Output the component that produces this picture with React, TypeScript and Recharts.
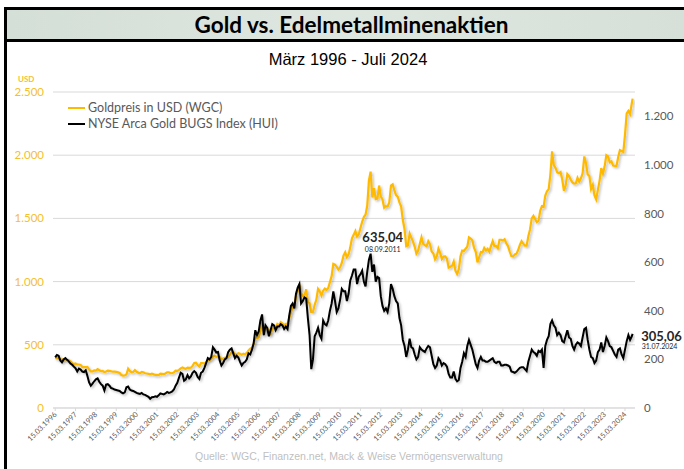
import React from 'react';
import { LineChart, Line, XAxis, YAxis, CartesianGrid, ReferenceDot } from 'recharts';

const START_YEAR = 1996;
const START_MONTH = 3; // March

// Gold price in USD (monthly, March 1996 – July 2024)
const goldPrice = [
  396, 393, 392, 385, 383, 387, 383, 381, 378, 369,
  355, 347, 352, 344, 344, 341, 324, 324, 323, 325, 306, 289,
  289, 297, 296, 308, 299, 292, 293, 284, 289, 296, 294, 291,
  287, 287, 286, 282, 277, 261, 256, 257, 265, 311, 293, 283,
  285, 300, 286, 280, 275, 285, 282, 275, 273, 270, 266, 272,
  266, 262, 263, 260, 272, 270, 268, 273, 283, 283, 276, 275,
  282, 296, 294, 302, 314, 321, 313, 310, 319, 317, 319, 333,
  356, 359, 340, 328, 355, 356, 351, 360, 379, 379, 389, 407,
  414, 405, 406, 404, 384, 392, 398, 400, 405, 420, 439, 442,
  424, 423, 434, 429, 422, 430, 424, 437, 456, 470, 476, 510,
  549, 555, 557, 610, 676, 596, 633, 632, 598, 585, 627, 629,
  631, 665, 655, 679, 667, 655, 665, 665, 712, 754, 806, 803,
  889, 922, 975, 909, 888, 889, 939, 839, 829, 760, 760, 816,
  858, 943, 924, 890, 928, 945, 934, 949, 996, 1043, 1140, 1134,
  1117, 1095, 1113, 1148, 1205, 1232, 1193, 1215, 1271, 1342, 1370, 1400,
  1356, 1372, 1424, 1473, 1510, 1529, 1600, 1800, 1870, 1665, 1739, 1652,
  1656, 1760, 1674, 1650, 1585, 1596, 1594, 1626, 1760, 1770, 1721, 1684,
  1671, 1627, 1593, 1487, 1414, 1280, 1286, 1380, 1348, 1316, 1275, 1221,
  1244, 1300, 1350, 1299, 1288, 1279, 1320, 1296, 1238, 1222, 1176, 1200,
  1260, 1227, 1179, 1198, 1199, 1181, 1110, 1117, 1125, 1159, 1086, 1060,
  1097, 1200, 1246, 1242, 1260, 1276, 1350, 1341, 1326, 1266, 1236, 1152,
  1192, 1234, 1231, 1266, 1246, 1260, 1236, 1283, 1320, 1280, 1282, 1265,
  1331, 1331, 1325, 1335, 1303, 1281, 1238, 1202, 1198, 1215, 1221, 1250,
  1291, 1320, 1300, 1285, 1284, 1359, 1413, 1500, 1520, 1495, 1470, 1480,
  1560, 1597, 1591, 1680, 1715, 1732, 1847, 2030, 1922, 1900, 1866, 1858,
  1867, 1808, 1718, 1760, 1850, 1834, 1807, 1785, 1775, 1777, 1821, 1790,
  1817, 1856, 1990, 1937, 1848, 1836, 1732, 1765, 1681, 1650, 1726, 1797,
  1898, 1855, 1912, 2000, 1991, 1943, 1951, 1918, 1916, 1916, 1985, 2040,
  2034, 2025, 2160, 2330, 2350, 2325, 2410,
];

// NYSE Arca Gold BUGS Index (HUI) (monthly, March 1996 – July 2024)
const huiIndex = [
  208, 218, 215, 196, 188, 200, 205, 198, 192, 183,
  178, 170, 163, 150, 162, 158, 150, 148, 155, 132, 105, 92,
  100, 110, 118, 122, 108, 98, 92, 72, 96, 98, 92, 82,
  80, 76, 74, 72, 70, 64, 60, 64, 85, 88, 76, 72,
  70, 66, 62, 60, 58, 62, 56, 54, 50, 46, 38, 44,
  45, 48, 46, 52, 60, 58, 56, 60, 66, 62, 64, 68,
  76, 92, 104, 125, 145, 140, 112, 118, 135, 122, 130, 145,
  152, 145, 128, 120, 145, 150, 165, 185, 205, 200, 210, 250,
  240, 228, 230, 195, 175, 185, 200, 205, 230, 240, 245, 225,
  205, 215, 208, 190, 175, 185, 190, 200, 225, 220, 240, 265,
  320, 300, 315, 360, 385, 300, 340, 330, 295, 320, 345, 340,
  320, 335, 335, 345, 340, 325, 335, 325, 380, 420, 430, 410,
  470, 495, 510, 430, 440, 455, 450, 370, 300, 160, 200, 295,
  310, 330, 300, 285, 360, 345, 340, 360, 400, 430, 480, 440,
  395, 410, 445, 490, 480, 480, 440, 470, 525, 545, 570, 570,
  510, 540, 550, 565, 520, 500, 560, 610, 635, 560, 590, 520,
  540, 535, 460, 420, 400, 410, 395, 430, 510, 490, 460, 440,
  430, 370, 340, 280, 255, 210, 240, 285, 250, 245, 220, 200,
  210, 250, 240, 235, 230, 245, 255, 250, 215, 180, 165, 175,
  205, 195, 175, 185, 180, 170, 140, 125, 125, 150, 120, 110,
  115, 165, 190, 225, 210, 255, 280, 260, 240, 210, 180, 165,
  195, 210, 195, 195, 190, 190, 195, 200, 205, 190, 185, 190,
  190, 175, 175, 178, 178, 175, 170, 150, 148, 145, 150, 158,
  165, 168, 168, 160, 152, 190, 215, 240, 230, 225, 215, 235,
  230, 240, 165, 255, 280, 295, 345, 360, 340, 330, 300, 310,
  300, 275, 270, 295, 320, 290, 285, 255, 240, 260, 270, 265,
  255, 290, 325, 330, 280, 240, 210, 205, 185, 195, 230, 240,
  270, 230, 255, 290, 275, 255, 250, 235, 220, 210, 240, 245,
  220, 205, 240, 275, 300, 280, 295,
];

const tickYears = [
  1996, 1997, 1998, 1999, 2000, 2001, 2002, 2003, 2004, 2005, 2006, 2007, 2008, 2009, 2010,
  2011, 2012, 2013, 2014, 2015, 2016, 2017, 2018, 2019, 2020, 2021, 2022, 2023, 2024,
];
const leftTicks = [0, 500, 1000, 1500, 2000, 2500];
const rightTicks = [0, 200, 400, 600, 800, 1000, 1200];

const legendLabels = ['Goldpreis in USD (WGC)', 'NYSE Arca Gold BUGS Index (HUI)'];

const peakValue = 635.04;
const peakDateLabel = '08.09.2011';
const peakT = 2011 + (8 + 8 / 30) / 12;
const lastValue = 305.06;
const lastGold = 2448;
const lastDateLabel = '31.07.2024';
const lastT = 2024 + 7 / 12;

const GOLD = '#FFBA00';
const GOLD_TEXT = '#F5BF2C';
const DARK = '#000000';
const FONT = 'Lato, "Open Sans", sans-serif';

const data = goldPrice.map((g, i) => {
  const m = START_MONTH - 1 + i;
  return { t: START_YEAR + Math.floor(m / 12) + ((m % 12) + 0.5) / 12, gold: g, hui: huiIndex[i] };
});
data.push({ t: lastT, gold: lastGold, hui: lastValue });

const tickT = tickYears.map((y) => y + 2.5 / 12);

const fmt = (v: number) => String(v).replace(/\B(?=(\d{3})+(?!\d))/g, '.');
const fmtDec = (v: number) => v.toFixed(2).replace('.', ',');

const XTick = (props: any) => {
  const { x, y, payload } = props;
  const year = Math.round(payload.value - 2.5 / 12);
  return (
    <g transform={`translate(${x + 2},${y + 2})`}>
      <text x={0} y={0} textAnchor="end" transform="rotate(-45)" fontSize={7.4} fill="#595959" fontFamily={FONT}>
        {`15.03.${year}`}
      </text>
    </g>
  );
};

const LeftTick = (props: any) => {
  const { x, y, payload } = props;
  return (
    <text x={x} y={y} dy={4} textAnchor="end" fontSize={11.5} fill={GOLD_TEXT} fontFamily={FONT}>
      {fmt(payload.value)}
    </text>
  );
};

const RightTick = (props: any) => {
  const { x, y, payload } = props;
  return (
    <text x={x} y={y} dy={4} textAnchor="start" fontSize={11.5} fill="#595959" fontFamily={FONT}>
      {fmt(payload.value)}
    </text>
  );
};

const PeakShape = (p: any) => (
  <g>
    <text x={p.cx + 12.5} y={p.cy - 12} textAnchor="middle" fontSize={13} fontWeight={700} fill="#262626" fontFamily={FONT}>
      {fmtDec(peakValue)}
    </text>
    <text x={p.cx + 12.5} y={p.cy - 2} textAnchor="middle" fontSize={7} fill="#262626" fontFamily={FONT}>
      {peakDateLabel}
    </text>
  </g>
);

const LastShape = (p: any) => (
  <g>
    <text x={p.cx + 8.5} y={p.cy + 7} textAnchor="start" fontSize={13} fontWeight={700} fill="#262626" fontFamily={FONT}>
      {fmtDec(lastValue)}
    </text>
    <text x={p.cx + 9} y={p.cy + 15.5} textAnchor="start" fontSize={7} fill="#262626" fontFamily={FONT}>
      {lastDateLabel}
    </text>
  </g>
);

export default function App() {
  return (
    <div style={{ position: 'absolute', left: 0, top: 0, width: 684, height: 469, background: '#fff', overflow: 'hidden' }}>
      {/* frame */}
      <div style={{ position: 'absolute', left: 4, top: 7, width: 680, height: 3, background: '#000' }} />
      <div style={{ position: 'absolute', left: 4, top: 7, width: 3, height: 462, background: '#000' }} />
      <div
        style={{
          position: 'absolute', left: 7, top: 10, width: 677, height: 29,
          background: 'linear-gradient(90deg, #D4DFD7 0%, #DEE6E0 50%, #D6E0D8 100%)',
          display: 'flex', alignItems: 'center', justifyContent: 'center',
        }}
      >
        <span style={{ fontFamily: FONT, fontWeight: 700, fontSize: 22.5, color: '#000', marginLeft: 12, lineHeight: '29px' }}>
          Gold vs. Edelmetallminenaktien
        </span>
      </div>
      <div style={{ position: 'absolute', left: 4, top: 39, width: 680, height: 3, background: '#000' }} />
      <div
        style={{
          position: 'absolute', left: 0, top: 50, width: 696, textAlign: 'center',
          fontFamily: '"Liberation Sans", Arial, sans-serif', fontSize: 16.5, color: '#000',
        }}
      >
        März 1996 - Juli 2024
      </div>
      <div
        style={{
          position: 'absolute', left: 18, top: 74, fontFamily: FONT, fontWeight: 700,
          fontSize: 8, lineHeight: '10px', color: GOLD_TEXT,
        }}
      >
        USD
      </div>
      {/* legend */}
      <div style={{ position: 'absolute', left: 68, top: 100, fontFamily: FONT, fontSize: 12.5, color: '#595959' }}>
        {legendLabels.map((label, i) => (
          <div key={label} style={{ display: 'flex', alignItems: 'center', height: 16, lineHeight: '16px' }}>
            <span style={{ display: 'inline-block', width: 17, height: 2, background: i === 0 ? GOLD : DARK, marginRight: 3 }} />
            <span>{label}</span>
          </div>
        ))}
      </div>
      <div
        style={{
          position: 'absolute', left: 0, top: 450, width: 698, textAlign: 'center',
          fontFamily: '"Liberation Sans", Arial, sans-serif', fontSize: 10.5, color: '#BFBFBF',
        }}
      >
        Quelle: WGC, Finanzen.net, Mack &amp; Weise Vermögensverwaltung
      </div>
      <div style={{ position: 'absolute', left: 0, top: 0 }}>
        <LineChart width={684} height={469} data={data} margin={{ top: 92, right: 9, bottom: 11, left: 13 }}>
          <defs>
            <filter id="shadow" x="-5%" y="-5%" width="110%" height="110%">
              <feDropShadow dx="1.5" dy="1.5" stdDeviation="1" floodColor="#000" floodOpacity="0.25" />
            </filter>
          </defs>
          <CartesianGrid yAxisId="left" vertical={false} stroke="#D9D9D9" strokeWidth={1} />
          <XAxis
            dataKey="t"
            type="number"
            domain={[1996.1, 2024.7]}
            ticks={tickT}
            interval={0}
            tick={<XTick />}
            tickSize={3}
            tickLine={{ stroke: '#D9D9D9' }}
            axisLine={{ stroke: '#D9D9D9' }}
            height={50}
            allowDataOverflow
          />
          <YAxis
            yAxisId="left"
            orientation="left"
            domain={[0, 2500]}
            ticks={leftTicks}
            width={40}
            axisLine={false}
            tickLine={false}
            tickSize={0}
            tickMargin={9}
            tick={<LeftTick />}
          />
          <YAxis
            yAxisId="right"
            orientation="right"
            domain={[0, 1300]}
            ticks={rightTicks}
            width={40}
            axisLine={false}
            tickLine={false}
            tickSize={0}
            tickMargin={9}
            tick={<RightTick />}
          />
          <Line
            yAxisId="left"
            dataKey="gold"
            name={legendLabels[0]}
            stroke={GOLD}
            strokeWidth={2.2}
            dot={false}
            activeDot={false}
            isAnimationActive={false}
            filter="url(#shadow)"
          />
          <Line
            yAxisId="right"
            dataKey="hui"
            name={legendLabels[1]}
            stroke={DARK}
            strokeWidth={2}
            dot={false}
            activeDot={false}
            isAnimationActive={false}
            filter="url(#shadow)"
          />
          <ReferenceDot yAxisId="right" x={peakT} y={peakValue} r={0} ifOverflow="visible" shape={PeakShape} />
          <ReferenceDot yAxisId="right" x={lastT} y={lastValue} r={0} ifOverflow="visible" shape={LastShape} />
        </LineChart>
      </div>
    </div>
  );
}
